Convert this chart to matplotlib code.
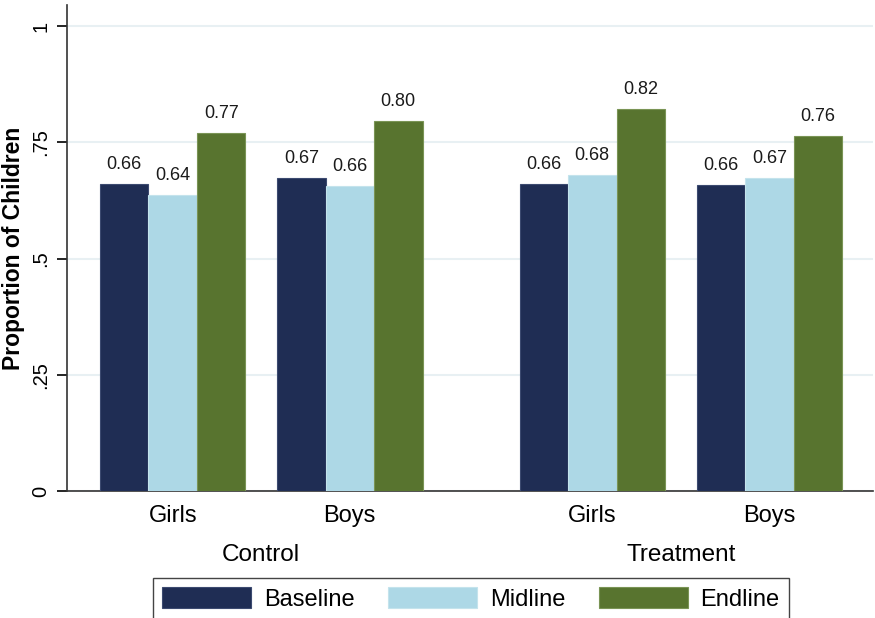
import numpy as np
import matplotlib
matplotlib.use("Agg")
import matplotlib.pyplot as plt

plt.rcParams['font.family'] = ['Liberation Sans', 'DejaVu Sans']

# data
arms = ['Control', 'Treatment']
groups = ['Girls', 'Boys']
rounds = ['Baseline', 'Midline', 'Endline']
baseline = [0.660, 0.673, 0.660, 0.658]
midline = [0.637, 0.656, 0.680, 0.673]
endline = [0.770, 0.796, 0.821, 0.763]
yticks = [0, 0.25, 0.5, 0.75, 1]
ytick_labels = ['0', '.25', '.5', '.75', '1']

colors = ['#1f2d54', '#add8e6', '#58742f']
edges = ['#3c4a70', '#c4e3ec', '#7a9455']

# layout (bar width = 1 unit)
outer = 0.68
inner_gap = 0.65
arm_gap = 2.0
n_bar = len(rounds)

starts = []
pos = outer
for a in range(len(arms)):
    for g in range(len(groups)):
        starts.append(pos)
        pos += n_bar
        if g < len(groups) - 1:
            pos += inner_gap
    pos += arm_gap
starts = np.array(starts)

fig = plt.figure(figsize=(8.75, 6.18), dpi=100)
W, H = 875, 618
ax = fig.add_axes([67 / W, (H - 491) / H, (873 - 67) / W, (491 - 5) / H])

series = [baseline, midline, endline]
for i, (name, vals) in enumerate(zip(rounds, series)):
    bars = ax.bar(starts + i + 0.5, vals, width=1.0, color=colors[i],
                  edgecolor=edges[i], linewidth=0.8, label=name, zorder=3)
    ax.bar_label(bars, labels=[f'{v:.2f}' for v in vals], padding=8,
                 fontsize=13, color='#1a1a1a')

ax.set_xlim(0, 806 / 48.5)
ax.set_ylim(0, (491 - 5) / 465)
ax.set_yticks(yticks)
ax.set_yticklabels(ytick_labels, rotation=90, va='center', fontsize=14.5)
ax.yaxis.grid(True, color='#e8f0f3', linewidth=1.5, zorder=0)
ax.set_axisbelow(True)

centres = starts + n_bar / 2
ax.set_xticks(centres)
ax.set_xticklabels(groups * len(arms), fontsize=17)
ax.tick_params(axis='x', length=0, pad=10)
ax.tick_params(axis='y', length=7, width=1.2, pad=5)

for a, arm in enumerate(arms):
    cx = centres[a * len(groups):(a + 1) * len(groups)].mean()
    ax.text(cx, (491 - 561) / 486, arm, transform=ax.get_xaxis_transform(),
            ha='center', va='baseline', fontsize=17.5)

for s in ['top', 'right']:
    ax.spines[s].set_visible(False)
for s in ['left', 'bottom']:
    ax.spines[s].set_linewidth(1.2)
    ax.spines[s].set_color('#333333')

ax.set_ylabel('Proportion of Children', fontsize=16.5, fontweight='bold')
ax.yaxis.set_label_coords((25 - 67) / 806, 0.5)

leg = fig.legend(loc='upper left', bbox_to_anchor=(153 / W, 1 - 578 / H),
                 ncol=3, fontsize=17, handlelength=3.77, handleheight=0.93,
                 handletextpad=0.55, columnspacing=1.4, borderpad=0.4,
                 borderaxespad=0, fancybox=False, framealpha=1,
                 edgecolor='#444444')
leg.get_frame().set_linewidth(1.0)

fig.savefig('out.png', dpi=100)
